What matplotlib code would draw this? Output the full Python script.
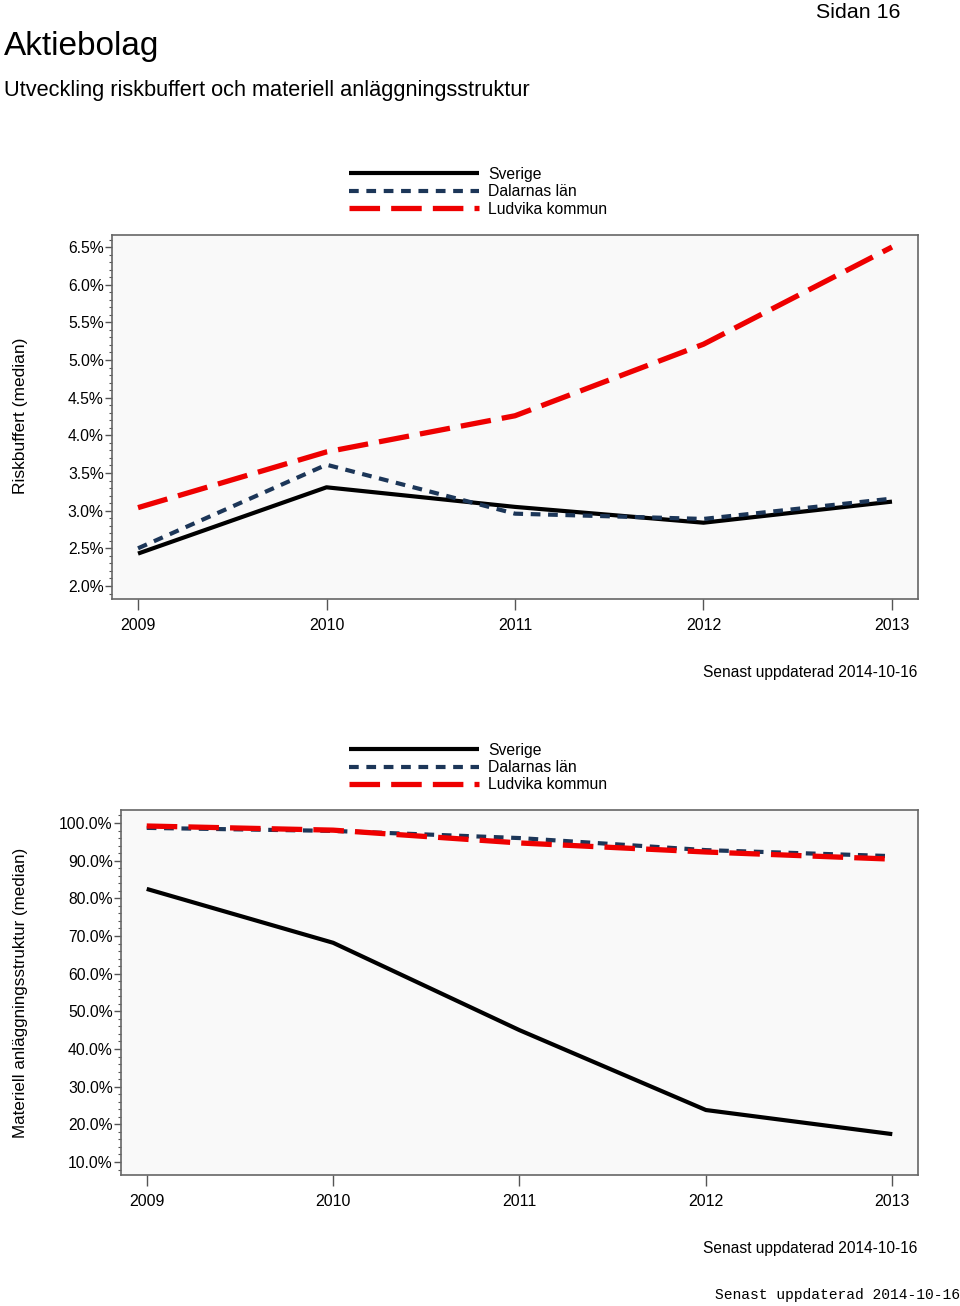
import matplotlib
matplotlib.use("Agg")
import matplotlib.pyplot as plt
from matplotlib.ticker import MultipleLocator, FuncFormatter
from matplotlib.lines import Line2D

plt.rcParams['font.family'] = ['Liberation Sans', 'DejaVu Sans']
plt.rcParams['lines.scale_dashes'] = False

years = [2009, 2010, 2011, 2012, 2013]
series_names = ["Sverige", "Dalarnas län", "Ludvika kommun"]

risk_sverige = [2.43, 3.31, 3.05, 2.84, 3.12]
risk_dalarna = [2.50, 3.61, 2.96, 2.89, 3.16]
risk_ludvika = [3.04, 3.78, 4.26, 5.21, 6.50]

mat_sverige = [82.5, 68.2, 45.0, 23.8, 17.4]
mat_dalarna = [98.7, 97.9, 96.0, 92.8, 91.2]
mat_ludvika = [99.2, 98.1, 94.7, 92.3, 90.4]

W, H = 960, 1306
fig = plt.figure(figsize=(W / 100, H / 100), dpi=100)

def px_axes(l, t, r, b):
    return fig.add_axes([l / W, 1 - b / H, (r - l) / W, (b - t) / H])

styles = [
    dict(color="black", lw=3.0, dashes=None),
    dict(color="#1c3658", lw=3.0, dashes=(7.0, 5.5)),
    dict(color="#ee0000", lw=3.8, dashes=(22.0, 8.0)),
]

def draw_panel(ax, data, ylim, major, minor, fmt, ylabel, ylabel_y, ylabel_size):
    ax.set_facecolor("#f9f9f9")
    for vals, st in zip(data, styles):
        ln, = ax.plot(years, vals, color=st["color"], lw=st["lw"],
                      solid_capstyle="butt", dash_capstyle="butt", solid_joinstyle="round")
        if st["dashes"]:
            ln.set_dashes(st["dashes"])
    ax.set_xlim(2008.862, 2013.138)
    ax.set_ylim(*ylim)
    ax.set_xticks(years)
    ax.set_xticklabels([str(y) for y in years])
    ax.yaxis.set_major_locator(MultipleLocator(major))
    ax.yaxis.set_minor_locator(MultipleLocator(minor))
    ax.yaxis.set_major_formatter(FuncFormatter(fmt))
    ax.tick_params(axis="x", which="major", length=8, width=1, color="#555555",
                   labelsize=11.5, pad=6, colors="black")
    ax.tick_params(axis="x", which="minor", length=0)
    ax.tick_params(axis="y", which="major", length=5, width=1, color="#555555",
                   labelsize=11.3, pad=1)
    ax.tick_params(axis="y", which="minor", length=2.5, width=0.8, color="#555555")
    for s in ax.spines.values():
        s.set_color("#666666")
        s.set_linewidth(1.2)
    fig.text(21 / W, 1 - ylabel_y / H, ylabel, rotation=90, ha="center", va="center",
             fontsize=ylabel_size)

def legend(top_y):
    x0, x1, xt = 349, 479, 488
    for i, (name, st) in enumerate(zip(series_names, styles)):
        y = top_y + i * 17.5
        ln = Line2D([x0 / W, x1 / W], [1 - y / H, 1 - y / H], transform=fig.transFigure,
                    color=st["color"], lw=st["lw"], solid_capstyle="butt", dash_capstyle="butt")
        if st["dashes"]:
            ln.set_dashes(st["dashes"])
        fig.add_artist(ln)
        fig.text(xt / W, 1 - (y + 1) / H, name, ha="left", va="center", fontsize=11.3)

# Header texts
fig.text(4 / W, 1 - 46 / H, "Aktiebolag", ha="left", va="center", fontsize=24)
fig.text(4 / W, 1 - 90.5 / H, "Utveckling riskbuffert och materiell anläggningsstruktur",
         ha="left", va="center", fontsize=15.7)
fig.text(901 / W, 1 - 13 / H, "Sidan 16", ha="right", va="center", fontsize=15.4)

# Top panel
ax1 = px_axes(112, 235, 918, 599)
draw_panel(ax1, [risk_sverige, risk_dalarna, risk_ludvika], (1.827, 6.66), 0.5, 0.1,
           lambda v, p: f"{v:.1f}%", "Riskbuffert (median)", 416, 12.5)
legend(173)
fig.text(917 / W, 1 - 673 / H, "Senast uppdaterad 2014-10-16", ha="right", va="center", fontsize=11.2)

# Bottom panel
ax2 = px_axes(121, 810, 918, 1175)
draw_panel(ax2, [mat_sverige, mat_dalarna, mat_ludvika], (6.55, 103.45), 10, 2,
           lambda v, p: f"{v:.1f}%", "Materiell anläggningsstruktur (median)", 993, 12.25)
legend(749)
fig.text(917 / W, 1 - 1249 / H, "Senast uppdaterad 2014-10-16", ha="right", va="center", fontsize=11.2)

fig.text(960 / W, 1 - 1295 / H, "Senast uppdaterad 2014-10-16", ha="right", va="center",
         fontsize=10.5, family=["Liberation Mono", "DejaVu Sans Mono"])

fig.savefig("out.png", dpi=100)
